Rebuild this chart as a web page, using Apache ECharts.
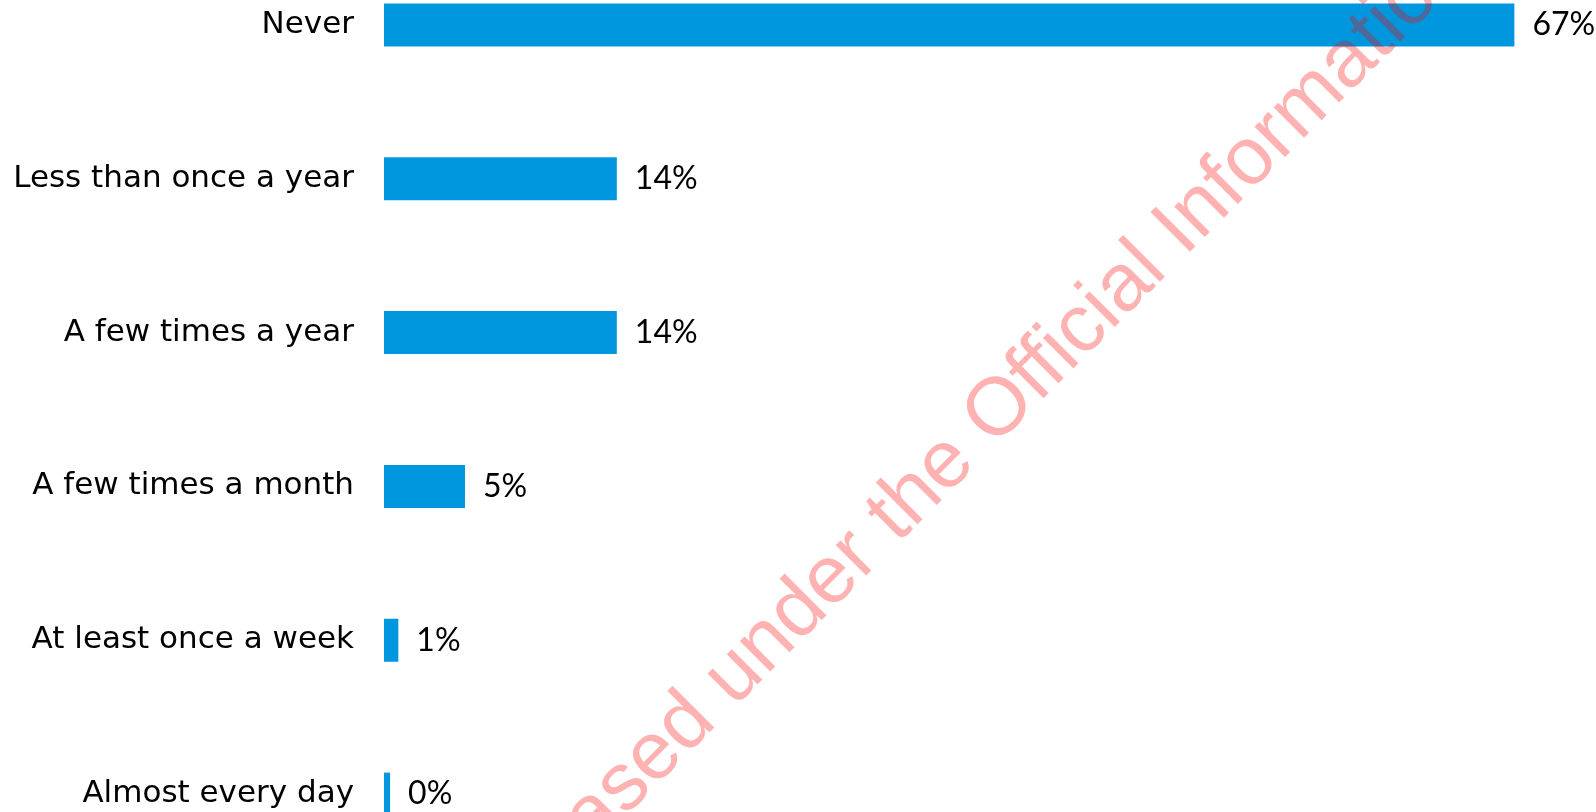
<!DOCTYPE html>
<html>
<head>
<meta charset="utf-8">
<script src="https://cdn.jsdelivr.net/npm/echarts@6/dist/echarts.min.js"></script>
<style>
html,body{margin:0;padding:0;background:#fff;overflow:hidden;width:1596px;height:812px;position:relative;}
#chart{position:absolute;left:0;top:-52px;width:1596px;height:923px;}
</style>
</head>
<body>
<div id="chart"></div>
<script>
const categories = ["Never", "Less than once a year", "A few times a year", "A few times a month", "At least once a week", "Almost every day"];
const values = [67, 13.8, 13.8, 4.8, 0.85, 0.36];
const watermarkText = "Released under the Official Information Act";

const chart = echarts.init(document.getElementById('chart'));
const FONT = 'DejaVu Sans';
const OFF = 52;

// watermark placement: anchor the centre of "O" (Official) and the centre of "a" (Information)
const WM_FONT = '"Liberation Sans"';
const ctx = document.createElement('canvas').getContext('2d');
ctx.font = '100px ' + WM_FONT;
const mw = s => ctx.measureText(s).width;
const theta = 45 * Math.PI / 180;
const anchorO = [1000, 410];
const spanTarget = 492; // O centre -> 'a' (Informa) centre
const span100 = mw('O') / 2 + mw('fficial Inform') + mw('a') / 2;
const wmSize = 100 * spanTarget / span100;
const d = (mw('Released under the ') + mw('O') / 2) * wmSize / 100;
const wx = anchorO[0] - d * Math.cos(theta);
const wy = anchorO[1] + d * Math.sin(theta) + OFF;

chart.setOption({
  animation: false,
  backgroundColor: '#ffffff',
  grid: { left: 384, right: 31, top: 0, bottom: 0, containLabel: false },
  xAxis: {
    type: 'value', min: 0, max: 70, show: false
  },
  yAxis: {
    type: 'category', data: categories, inverse: true,
    axisLine: { show: false }, axisTick: { show: false }, splitLine: { show: false },
    axisLabel: { color: '#000', fontSize: 31, fontFamily: FONT, margin: 30 }
  },
  series: [{
    type: 'bar',
    data: values,
    barWidth: 43,
    itemStyle: { color: '#0097DF' },
    label: {
      show: true, position: 'right', distance: 18,
      color: '#000', fontSize: 32, fontFamily: 'Lato',
      formatter: p => Math.round(p.value) + '%'
    }
  }],
  graphic: [{
    type: 'text',
    x: wx, y: wy,
    rotation: theta,
    z: 100,
    style: {
      text: watermarkText,
      fill: 'rgba(255,0,0,0.3)',
      font: wmSize.toFixed(1) + 'px ' + WM_FONT,
      align: 'left',
      verticalAlign: 'middle'
    }
  }]
});
</script>
</body>
</html>
